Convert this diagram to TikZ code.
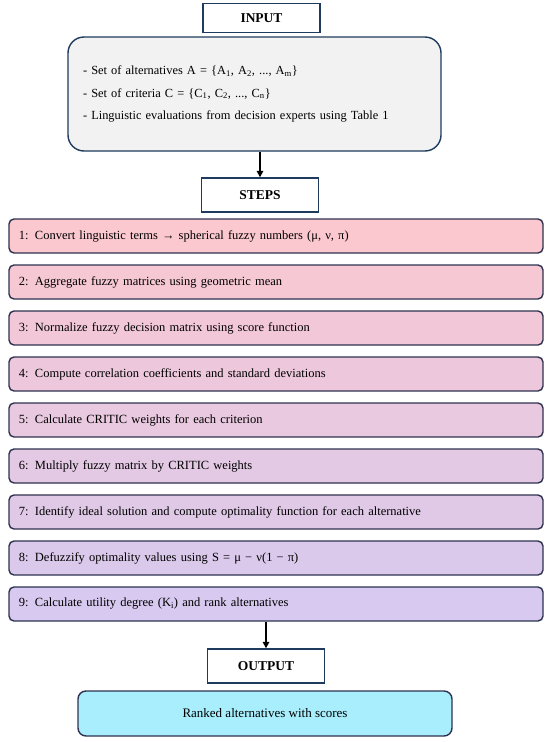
\documentclass[tikz,border=0pt]{standalone}
\usepackage{fontspec}
\setmainfont{Liberation Serif}
\usetikzlibrary{arrows.meta, positioning}
\definecolor{FrameNavy}{RGB}{30, 58, 92}
\definecolor{StepEdge}{RGB}{46, 50, 80}
\definecolor{InputGray}{RGB}{242, 242, 242}
\definecolor{StepPink}{RGB}{251, 200, 208}
\definecolor{StepLilac}{RGB}{215, 201, 239}
\definecolor{ResultCyan}{RGB}{168, 238, 252}

\begin{document}
\begin{tikzpicture}[x=1pt, y=-1pt,
    title/.style={draw=FrameNavy, line width=1.4pt, fill=white, minimum width=117pt, minimum height=32pt, inner sep=0pt, font=\fontsize{13.5}{15}\selectfont\bfseries},
    stepbox/.style={draw=StepEdge, line width=1.4pt, rounded corners=5pt, minimum height=34pt, text width=514pt, inner xsep=10pt, align=left, font=\fontsize{12.5}{14}\selectfont},
    flow/.style={-{Triangle[width=6.5pt, length=6.5pt]}, line width=1.6pt}]
    \useasboundingbox (0,0) rectangle (550,742);

    % Input
    \node[title, minimum height=29pt] (input) at (261.5,18) {INPUT};
    \node[draw=FrameNavy, line width=1.4pt, fill=InputGray, rounded corners=16pt, minimum height=114pt, text width=343pt, inner xsep=15pt, align=left, font=\fontsize{12.4}{22.5}\selectfont] (inbox) at (254.5,94)
        {- Set of alternatives A = \{A\textsubscript{1}, A\textsubscript{2}, ..., A\textsubscript{m}\}\\
         - Set of criteria C = \{C\textsubscript{1}, C\textsubscript{2}, ..., C\textsubscript{n}\}\\
         - Linguistic evaluations from decision experts using Table 1};

    % Steps
    \node[title, minimum height=34pt] (steps) at (260,195) {STEPS};
    \draw[flow] (inbox.south -| steps) -- (steps.north);
    \foreach \i/\txt in {
        1/{1: Convert linguistic terms → spherical fuzzy numbers (μ, ν, π)},
        2/{2: Aggregate fuzzy matrices using geometric mean},
        3/{3: Normalize fuzzy decision matrix using score function},
        4/{4: Compute correlation coefficients and standard deviations},
        5/{5: Calculate CRITIC weights for each criterion},
        6/{6: Multiply fuzzy matrix by CRITIC weights},
        7/{7: Identify ideal solution and compute optimality function for each alternative},
        8/{8: Defuzzify optimality values using S = μ − ν(1 − π)},
        9/{9: Calculate utility degree (K\textsubscript{i}) and rank alternatives}} {
        \pgfmathtruncatemacro\mix{100-12.5*(\i-1)}
        \node[stepbox, fill=StepPink!\mix!StepLilac] (s\i) at (276,190+46*\i) {\txt};
    }

    % Output
    \node[title, minimum height=34pt] (output) at (266,666) {OUTPUT};
    \draw[flow] (s9.south -| output) -- (output.north);
    \node[draw=StepEdge, line width=1.4pt, fill=ResultCyan, rounded corners=8pt, minimum width=374pt, minimum height=45pt, font=\fontsize{13}{15}\selectfont] (outbox) at (265,713.5) {Ranked alternatives with scores};
\end{tikzpicture}
\end{document}
